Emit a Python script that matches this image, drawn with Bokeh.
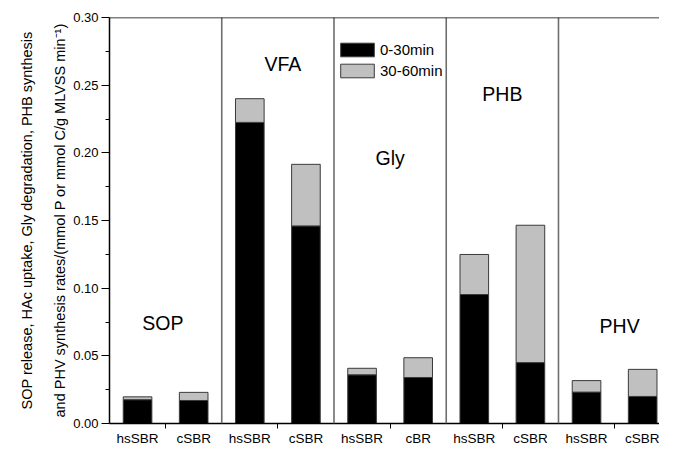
from bokeh.plotting import figure
from bokeh.models import ColumnDataSource, FixedTicker, Span
from bokeh.embed import file_html
from bokeh.resources import INLINE
from bokeh.core.properties import value

groups = ["SOP", "VFA", "Gly", "PHB", "PHV"]
reactors = ["hsSBR", "cSBR", "hsSBR", "cSBR", "hsSBR", "cBR", "hsSBR", "cSBR", "hsSBR", "cSBR"]
rate_0_30 = [0.0176, 0.017, 0.2225, 0.146, 0.036, 0.034, 0.0953, 0.045, 0.0232, 0.020]
rate_30_60 = [0.0021, 0.006, 0.0175, 0.0455, 0.0048, 0.0146, 0.0296, 0.1015, 0.0085, 0.020]
group_label_x = [0.95, 3.09, 5.0, 7.0, 9.09]
group_label_y = [0.0743, 0.2655, 0.196, 0.2437, 0.0718]
y_ticks = [0.00, 0.05, 0.10, 0.15, 0.20, 0.25, 0.30]
y_minor = [0.025, 0.075, 0.125, 0.175, 0.225, 0.275]

FONT = "Liberation Sans"

xpos = [i + 0.5 for i in range(len(reactors))]
gx = [2 * k + 1 for k in range(len(groups))]
src = ColumnDataSource(dict(x=xpos, a=rate_0_30, b=rate_30_60))

p = figure(width=659, height=448, output_backend="svg", toolbar_location=None,
           x_range=(0, 9.8), y_range=(0, 0.30),
           min_border_left=109, min_border_right=0, min_border_top=17, min_border_bottom=0)

p.vbar_stack(["a", "b"], x="x", width=0.51, source=src,
             fill_color=["black", "#c0c0c0"], line_color="#3a3a3a", line_width=1,
             legend_label=["0-30min", "30-60min"])

for k in range(1, len(groups)):
    p.add_layout(Span(location=2 * k, dimension="height", line_color="#6e6e6e", line_width=1.6))
p.add_layout(Span(location=0.30, dimension="width", line_color="black", line_width=1.5))

p.text(x=group_label_x, y=group_label_y, text=groups, text_align="center", text_baseline="middle",
       text_font=value(FONT), text_font_size="19.5px", text_color="black")

p.grid.visible = False
p.outline_line_color = None

# x axis
p.xaxis.ticker = FixedTicker(ticks=xpos, minor_ticks=gx)
p.xaxis.major_label_overrides = {x: r for x, r in zip(xpos, reactors)}
p.xaxis.major_tick_out = 0
p.xaxis.major_tick_in = 0
p.xaxis.minor_tick_out = 5
p.xaxis.minor_tick_in = 0
p.xaxis.minor_tick_line_color = "black"
p.xaxis.major_label_standoff = 2
p.xaxis.major_label_text_font = FONT
p.xaxis.major_label_text_font_size = "13.5px"
p.xaxis.major_label_text_color = "black"
p.xaxis.axis_line_color = "black"
p.xaxis.axis_line_width = 1.5

# y axis
p.yaxis.ticker = FixedTicker(ticks=y_ticks, minor_ticks=y_minor)
p.yaxis.major_label_overrides = {t: f"{t:.2f}" for t in y_ticks}
p.yaxis.major_tick_out = 8
p.yaxis.major_tick_in = 0
p.yaxis.minor_tick_out = 4
p.yaxis.minor_tick_in = 0
p.yaxis.major_tick_line_color = "black"
p.yaxis.minor_tick_line_color = "black"
p.yaxis.major_label_standoff = 3
p.yaxis.major_label_text_font = FONT
p.yaxis.major_label_text_font_size = "13px"
p.yaxis.major_label_text_color = "black"
p.yaxis.axis_line_color = "black"
p.yaxis.axis_line_width = 1.5
p.yaxis.axis_label = ("SOP release, HAc uptake, Gly degradation, PHB synthesis\n"
                      "and PHV synthesis rates/(mmol P or mmol C/g MLVSS min\u207b\u00b9)")
p.yaxis.axis_label_text_font = FONT
p.yaxis.axis_label_text_font_size = "14.5px"
p.yaxis.axis_label_text_font_style = "normal"
p.yaxis.axis_label_text_color = "black"
p.yaxis.axis_label_text_line_height = 2.1
p.yaxis.axis_label_standoff = 2

lg = p.legend[0]
lg.location = (227, 344)
lg.border_line_color = None
lg.background_fill_alpha = 0
lg.glyph_width = 42
lg.glyph_height = 17
lg.label_height = 17
lg.spacing = 4
lg.padding = 2
lg.margin = 0
lg.label_standoff = 2
lg.label_text_font = FONT
lg.label_text_font_size = "15px"
lg.label_text_color = "black"

open("out.html", "w").write(file_html(p, INLINE))
